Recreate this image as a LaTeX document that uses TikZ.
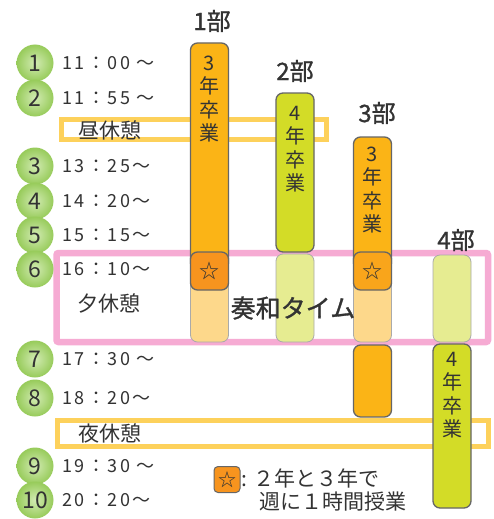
\documentclass[tikz,border=0pt]{standalone}
\usepackage{fontspec}
\setmainfont{Noto Sans CJK JP}
\newfontfamily\jp{Noto Sans CJK JP}
\newfontfamily\jpspaced[LetterSpace=14]{Noto Sans CJK JP}
\newfontfamily\jpheavy[FakeBold=1.2]{Noto Sans CJK JP}
\definecolor{txt}{HTML}{333333}
\definecolor{bord}{HTML}{666666}
\definecolor{lbord}{HTML}{AAAAAA}
\definecolor{orng}{HTML}{FBB416}
\definecolor{starone}{HTML}{F7941E}
\definecolor{starthree}{HTML}{F9A51B}
\definecolor{lorng}{HTML}{FDD88B}
\definecolor{grn}{HTML}{D3DC27}
\definecolor{lgrn}{HTML}{E6EC91}
\definecolor{pinkc}{HTML}{F6ABD3}
\definecolor{yelc}{HTML}{FDD15B}
\definecolor{ninner}{HTML}{D2EBB3}
\definecolor{nouter}{HTML}{97CB5A}
\begin{document}
\begin{tikzpicture}[x=1pt,y=-1pt,
  num/.style={circle, minimum size=37pt, inner sep=0pt, shading=radial, inner color=ninner, outer color=nouter, text=txt, font=\fontsize{23}{23}\selectfont},
  time/.style={anchor=west, text=txt, inner sep=0pt, font=\jpspaced\fontsize{18}{18}\selectfont},
  col/.style={draw=bord, line width=1.3pt, rounded corners=7pt, minimum width=38pt, inner sep=0pt},
  lcol/.style={draw=lbord, line width=0.8pt, rounded corners=7pt, minimum width=38pt, inner sep=0pt},
  coltext/.style={align=center, text=txt, inner sep=0pt, font=\fontsize{20}{23.5}\selectfont},
  bu/.style={text=txt, inner sep=0pt, font=\jpheavy\fontsize{24}{24}\selectfont},
  brk/.style={text=txt, anchor=west, inner sep=0pt, font=\fontsize{21}{21}\selectfont},
  legtext/.style={anchor=west, text=txt, inner sep=0pt, font=\fontsize{21}{21}\selectfont},
  yelbox/.style={draw=yelc, line width=5pt},
  pinkbox/.style={draw=pinkc, line width=6.5pt, rounded corners=2pt},
  starbox/.style={draw=bord, line width=1.3pt, rounded corners=7pt, minimum width=38pt, minimum height=38pt, inner sep=0pt, text=txt, font=\fontsize{20}{20}\selectfont}
]
\useasboundingbox[fill=white] (0,0) rectangle (494,519);

% break boxes (behind)
\draw[yelbox] (61.5,119.5) rectangle (326,139.5);
\draw[pinkbox] (56.5,253) rectangle (488,342);
\draw[yelbox] (57,420) rectangle (488,446);

% numbers
\foreach \n/\y in {1/63,2/98,3/166,4/201,5/235,6/269,7/359,8/398,9/466,10/500}{
  \node[num] (n\n) at (35,\y) {\n};
}
% times
\node[time] (t1) at (62,63) {11：00 ～};
\node[time] (t2) at (62,98) {11：55 ～};
\node[time] (t3) at (62,166) {13：25～};
\node[time] (t4) at (62,201) {14：20～};
\node[time] (t5) at (62,235) {15：15～};
\node[time] (t6) at (62,269) {16：10～};
\node[time] (t7) at (62,359) {17：30 ～};
\node[time] (t8) at (62,398) {18：20～};
\node[time] (t9) at (62,466) {19：30 ～};
\node[time] (t10) at (62,500) {20：20～};

\node[brk] (b1) at (78,130) {昼休憩};
\node[brk] (b2) at (77,303) {夕休憩};
\node[brk] (b3) at (78,433) {夜休憩};

% column 1
\node[lcol, fill=lorng, minimum height=70pt] (c1l) at (209.5,307) {};
\node[col, fill=orng, minimum height=227pt] (c1) at (209.5,156.5) {};
\node[starbox, fill=starone] (s1) at (209.5,271) {☆};
\node[coltext] (c1t) at (209.5,99) {3\\年\\卒\\業};
\node[bu] (l1) at (212,21) {1部};

% column 2
\node[lcol, fill=lgrn, minimum height=88pt] (c2l) at (295,298) {};
\node[col, fill=grn, minimum height=159pt] (c2) at (295,172.5) {};
\node[coltext] (c2t) at (295,149) {4\\年\\卒\\業};
\node[bu] (l2) at (295,71) {2部};

% column 3
\node[lcol, fill=lorng, minimum height=70pt] (c3l) at (372.5,307) {};
\node[col, fill=orng, minimum height=133pt] (c3) at (372.5,203.5) {};
\node[starbox, fill=starthree] (s3) at (372.5,271) {☆};
\node[coltext] (c3t) at (372.5,190) {3\\年\\卒\\業};
\node[col, fill=orng, minimum height=72pt] (c3b) at (372.5,381) {};
\node[bu] (l3) at (377,113) {3部};

% column 4
\node[lcol, fill=lgrn, minimum height=87pt] (c4l) at (452,298.5) {};
\node[col, fill=grn, minimum height=164pt] (c4) at (452,426) {};
\node[coltext] (c4t) at (452,395) {4\\年\\卒\\業};
\node[bu] (l4) at (456,240) {4部};

% sowa time
\node[text=txt, inner sep=0pt, font=\jpheavy\fontsize{25}{25}\selectfont] (sowa) at (293,308) {奏和タイム};

% legend
\node[draw=bord, line width=1pt, rounded corners=4pt, fill=starone, minimum width=26pt, minimum height=26pt, inner sep=0pt, text=txt, font=\fontsize{18}{18}\selectfont] (ls) at (227,479.5) {☆};
\node[legtext] (lt1) at (241,478) {: ２年と３年で};
\node[legtext] (lt2) at (259,502) {週に１時間授業};
\end{tikzpicture}
\end{document}
